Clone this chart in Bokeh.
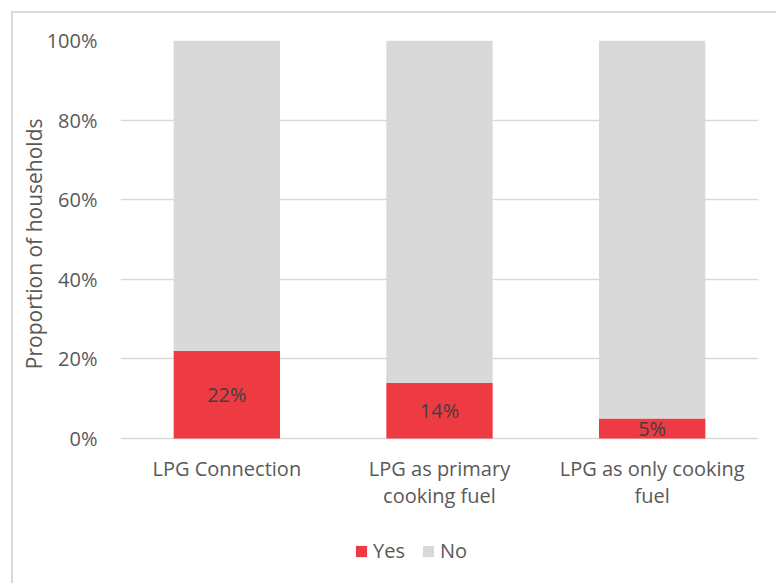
from bokeh.plotting import figure
from bokeh.models import (ColumnDataSource, FactorRange, Range1d, Legend, LegendItem, FixedTicker,
                          NumeralTickFormatter, Title, InlineStyleSheet)
from bokeh.core.properties import value
from bokeh.embed import file_html
from bokeh.resources import INLINE

categories = ["LPG Connection", "LPG as primary cooking fuel", "LPG as only cooking fuel"]
category_labels = ["LPG Connection", "LPG as primary\ncooking fuel", "LPG as only cooking\nfuel"]
yes_share = [0.22, 0.14, 0.05]
no_share = [0.78, 0.86, 0.95]
yes_labels = ["22%", "14%", "5%"]
y_ticks = [0, 0.2, 0.4, 0.6, 0.8, 1.0]
series = ["Yes", "No"]

FONT = "Open Sans"
FS = "20px"
RED = "#EE3B43"
GREY = "#D9D9D9"
TXT = "#595959"

# layout (pixels)
PX_PER_UNIT = 398          # height of the 0..100% band
BELOW_PX = 145             # room under the 0% line for category labels and legend
LABEL_GAP_PX = 16          # gap between 0% line and category labels

source = ColumnDataSource(dict(
    cat=categories,
    yes=yes_share,
    no=no_share,
    mid=[v / 2 for v in yes_share],
    lab=yes_labels,
    catlab=category_labels,
    laby=[-LABEL_GAP_PX / PX_PER_UNIT] * len(categories),
))

p = figure(x_range=FactorRange(*categories),
           y_range=Range1d(-BELOW_PX / PX_PER_UNIT, 1),
           frame_width=638, frame_height=PX_PER_UNIT + BELOW_PX,
           min_border_left=107, min_border_top=27, min_border_bottom=0, min_border_right=18,
           output_backend="svg", toolbar_location=None, tools="")
p.stylesheets = [InlineStyleSheet(css=":host { margin: 11px 0 0 11px; border-top: 2px solid #D9D9D9; border-left: 2px solid #D9D9D9; }")]
p.outline_line_color = None
p.background_fill_color = "white"
p.border_fill_color = "white"

rs = p.vbar_stack(["yes", "no"], x="cat", width=0.5, source=source,
                  color=[RED, GREY], line_color=None)

p.text(x="cat", y="mid", text="lab", source=source,
       text_align="center", text_baseline="middle",
       text_font=value(FONT), text_font_size=FS, text_color="#404040")

# category labels (multi-line) below the 0% line
p.text(x="cat", y="laby", text="catlab", source=source,
       text_align="center", text_baseline="top", text_line_height=1.03,
       text_font=value(FONT), text_font_size=FS, text_color=TXT)

# axes
p.xaxis.visible = False
p.yaxis.ticker = FixedTicker(ticks=y_ticks)
p.yaxis.formatter = NumeralTickFormatter(format="0%")
p.yaxis.axis_line_color = None
p.yaxis.major_tick_line_color = None
p.yaxis.minor_tick_line_color = None
p.yaxis.major_label_text_font = FONT
p.yaxis.major_label_text_font_size = FS
p.yaxis.major_label_text_color = TXT
p.yaxis.major_label_standoff = 17

ytitle = Title(text="Proportion of households", align="right",
               offset=78, standoff=-8,
               text_font=FONT, text_font_size="21px", text_font_style="normal", text_color=TXT)
p.add_layout(ytitle, "left")

p.xgrid.grid_line_color = None
p.ygrid.grid_line_color = GREY
p.ygrid.grid_line_width = 1.5

legend = Legend(items=[LegendItem(label=s, renderers=[r]) for s, r in zip(series, rs)],
                orientation="horizontal", location=(234, 19),
                label_text_font=FONT, label_text_font_size=FS, label_text_color=TXT,
                glyph_width=14, glyph_height=14, label_height=20, label_standoff=5,
                spacing=16, padding=0, margin=0,
                border_line_color=None, background_fill_alpha=0)
p.add_layout(legend, "center")

open("out.html", "w").write(file_html(p, INLINE))
